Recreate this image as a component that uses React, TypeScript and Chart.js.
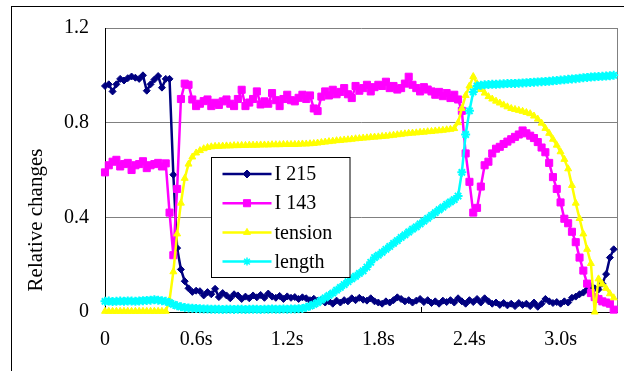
import React, { useEffect, useRef } from 'react';
import { Chart, registerables } from 'chart.js';
import { drawPoint } from 'chart.js/helpers';

Chart.register(...registerables);

// ---- data ----
const SAMPLE_STEP = 0.025; // seconds between samples
const X_MAX = 3.375;
const X_TICK_VALUES = [0, 0.6, 1.2, 1.8, 2.4, 3.0];
const X_TICK_LABELS = ['0', '0.6s', '1.2s', '1.8s', '2.4s', '3.0s'];
const X_INNER_MARK = 2.08;
const Y_TICK_VALUES = [0, 0.4, 0.8, 1.2];
const Y_TICK_LABELS = ['0', '0.4', '0.8', '1.2'];
const Y_TITLE = 'Relative changes';
const SERIES_NAMES = ['I 215', 'I 143', 'tension', 'length'];

const I215 = [
  0.955, 0.962, 0.932, 0.962, 0.985, 0.978, 0.988, 0.995, 0.99, 0.985,
  1.0, 0.935, 0.962, 0.982, 0.997, 0.948, 0.985, 0.985, 0.58, 0.27,
  0.18, 0.13, 0.1, 0.085, 0.09, 0.088, 0.07, 0.084, 0.075, 0.098,
  0.063, 0.08, 0.07, 0.058, 0.075, 0.07, 0.055, 0.065, 0.058, 0.07,
  0.062, 0.072, 0.06, 0.078, 0.065, 0.06, 0.068, 0.055, 0.066, 0.06,
  0.063, 0.055, 0.062, 0.058, 0.05, 0.056, 0.048, 0.052, 0.04, 0.045,
  0.035, 0.048, 0.04, 0.05, 0.045, 0.058, 0.05, 0.06, 0.052, 0.048,
  0.058, 0.045, 0.04, 0.035, 0.045, 0.04, 0.05, 0.062, 0.055, 0.045,
  0.05, 0.04, 0.048, 0.055, 0.042, 0.05, 0.038, 0.045, 0.035, 0.048,
  0.042, 0.05, 0.04, 0.058, 0.045, 0.035, 0.05, 0.042, 0.055, 0.04,
  0.058, 0.045, 0.035, 0.04, 0.03, 0.038, 0.028, 0.035, 0.025, 0.038,
  0.03, 0.035, 0.025, 0.04, 0.022, 0.035, 0.055, 0.045, 0.038, 0.042,
  0.035, 0.045, 0.04, 0.06, 0.065, 0.075, 0.082, 0.095, 0.11, 0.1,
  0.095, 0.12, 0.16, 0.23, 0.265,
];

const I143 = [
  0.59, 0.62, 0.635, 0.643, 0.615, 0.625, 0.63, 0.6, 0.62, 0.625,
  0.637, 0.608, 0.62, 0.625, 0.63, 0.615, 0.628, 0.42, 0.24, 0.52,
  0.9, 0.965, 0.96, 0.898, 0.87, 0.88, 0.891, 0.898, 0.87, 0.884,
  0.875, 0.89, 0.898, 0.88, 0.87, 0.9, 0.939, 0.87, 0.885, 0.9,
  0.932, 0.877, 0.89, 0.88, 0.925, 0.895, 0.87, 0.9, 0.918, 0.895,
  0.89, 0.905, 0.918, 0.9, 0.915, 0.86, 0.849, 0.91, 0.932, 0.915,
  0.939, 0.92, 0.93, 0.946, 0.92, 0.904, 0.955, 0.935, 0.946, 0.96,
  0.932, 0.95, 0.96, 0.955, 0.973, 0.946, 0.955, 0.94, 0.946, 0.965,
  0.994, 0.96, 0.946, 0.932, 0.95, 0.94, 0.932, 0.918, 0.93, 0.912,
  0.925, 0.904, 0.918, 0.898, 0.85, 0.67, 0.55, 0.42, 0.44, 0.53,
  0.62, 0.635, 0.67, 0.69, 0.698, 0.71, 0.72, 0.73, 0.74, 0.75,
  0.767, 0.755, 0.745, 0.735, 0.718, 0.695, 0.675, 0.63, 0.57, 0.52,
  0.463, 0.394, 0.375, 0.339, 0.295, 0.23, 0.175, 0.12, 0.08, 0.063,
  0.055, 0.045, 0.04, 0.035, 0.01,
];

const TENSION = [
  0.003, 0.003, 0.003, 0.003, 0.003, 0.003, 0.003, 0.003, 0.003, 0.003,
  0.003, 0.003, 0.003, 0.003, 0.003, 0.003, 0.003, 0.05, 0.17, 0.33,
  0.46, 0.565, 0.625, 0.655, 0.672, 0.682, 0.69, 0.695, 0.698, 0.7,
  0.7, 0.701, 0.702, 0.702, 0.703, 0.703, 0.704, 0.704, 0.705, 0.705,
  0.705, 0.706, 0.706, 0.706, 0.707, 0.707, 0.707, 0.708, 0.708, 0.708,
  0.708, 0.709, 0.71, 0.71, 0.711, 0.712, 0.714, 0.716, 0.718, 0.72,
  0.722, 0.724, 0.725, 0.727, 0.728, 0.73, 0.732, 0.733, 0.735, 0.736,
  0.738, 0.739, 0.74, 0.742, 0.743, 0.745, 0.747, 0.749, 0.751, 0.753,
  0.755, 0.756, 0.757, 0.759, 0.76, 0.762, 0.763, 0.765, 0.766, 0.768,
  0.77, 0.772, 0.775, 0.8, 0.86, 0.915, 0.955, 0.995, 0.965, 0.94,
  0.925, 0.91, 0.9, 0.891, 0.883, 0.875, 0.867, 0.86, 0.856, 0.852,
  0.848, 0.843, 0.838, 0.828, 0.815, 0.798, 0.776, 0.755, 0.73, 0.705,
  0.677, 0.645, 0.605, 0.535, 0.46, 0.395, 0.33, 0.265, 0.205, 0.0,
  0.14, 0.118, 0.1, 0.077, 0.06,
];

const LENGTH = [
  0.045, 0.046, 0.044, 0.045, 0.046, 0.045, 0.047, 0.046, 0.045, 0.047,
  0.048, 0.049, 0.05, 0.052, 0.05, 0.048, 0.045, 0.04, 0.032, 0.026,
  0.022, 0.019, 0.017, 0.016, 0.015, 0.014, 0.013, 0.013, 0.012, 0.012,
  0.012, 0.011, 0.012, 0.012, 0.011, 0.012, 0.012, 0.011, 0.012, 0.012,
  0.012, 0.011, 0.012, 0.012, 0.013, 0.012, 0.012, 0.013, 0.012, 0.013,
  0.013, 0.014, 0.015, 0.02, 0.025, 0.032, 0.04, 0.05, 0.06, 0.07,
  0.08, 0.092, 0.104, 0.116, 0.128, 0.14, 0.151, 0.163, 0.174, 0.19,
  0.21, 0.23, 0.24, 0.252, 0.265, 0.277, 0.29, 0.302, 0.315, 0.326,
  0.338, 0.35, 0.36, 0.372, 0.384, 0.396, 0.408, 0.42, 0.432, 0.443,
  0.455, 0.465, 0.475, 0.49, 0.59, 0.75, 0.85, 0.93, 0.955, 0.958,
  0.96, 0.961, 0.962, 0.962, 0.963, 0.964, 0.965, 0.966, 0.966, 0.967,
  0.968, 0.969, 0.97, 0.971, 0.972, 0.973, 0.974, 0.975, 0.977, 0.978,
  0.98, 0.981, 0.983, 0.985, 0.986, 0.988, 0.99, 0.991, 0.993, 0.994,
  0.995, 0.996, 0.997, 0.998, 1.0,
];

// ---- styles ----
const FONT_FAMILY = '"Liberation Serif", "Times New Roman", serif';
const STYLES = [
  { color: '#000080', pointStyle: 'rectRot', radius: 3.5, borderW: 1, legendRadius: 4, order: 3 },
  { color: '#FF00FF', pointStyle: 'rect', radius: 5, borderW: 1, legendRadius: 5, order: 2 },
  { color: '#FFFF00', pointStyle: 'triangle', radius: 4, borderW: 1, legendRadius: 4, order: 1 },
  { color: '#00FFFF', pointStyle: 'star', radius: 4.5, borderW: 2, legendRadius: 4, order: 0 },
];
const SERIES_VALUES = [I215, I143, TENSION, LENGTH];

const decorPlugin = {
  id: 'decor',
  beforeDatasetsDraw(chart: any) {
    const { ctx, chartArea: a, scales } = chart;
    ctx.save();
    ctx.lineWidth = 1;
    ctx.strokeStyle = '#808080';
    const rx = Math.round(a.right) - 0.5;
    ctx.beginPath();
    ctx.moveTo(rx, a.top);
    ctx.lineTo(rx, a.bottom);
    ctx.stroke();
    // small inner tick on the time axis
    const tx = Math.round(scales.x.getPixelForValue(X_INNER_MARK)) + 0.5;
    ctx.strokeStyle = '#000';
    ctx.beginPath();
    ctx.moveTo(tx, a.bottom - 5);
    ctx.lineTo(tx, a.bottom);
    ctx.stroke();
    ctx.restore();
  },
  afterDraw(chart: any) {
    const { ctx } = chart;
    ctx.save();
    // y-axis title
    ctx.font = `21px ${FONT_FAMILY}`;
    ctx.fillStyle = '#000';
    ctx.translate(36, 220);
    ctx.rotate(-Math.PI / 2);
    ctx.textAlign = 'center';
    ctx.textBaseline = 'middle';
    ctx.fillText(Y_TITLE, 0, 0);
    ctx.restore();

    // legend
    const box = { x: 211.5, y: 157.5, w: 138.5, h: 120 };
    ctx.save();
    ctx.fillStyle = '#fff';
    ctx.fillRect(box.x, box.y, box.w, box.h);
    ctx.strokeStyle = '#000';
    ctx.lineWidth = 1;
    ctx.strokeRect(box.x, box.y, box.w, box.h);
    const rowH = 29.2;
    SERIES_NAMES.forEach((name, i) => {
      const st = STYLES[i];
      const cy = box.y + 16.5 + i * rowH;
      ctx.strokeStyle = st.color;
      ctx.fillStyle = st.color;
      ctx.lineWidth = 2.5;
      ctx.beginPath();
      ctx.moveTo(box.x + 11, cy);
      ctx.lineTo(box.x + 60, cy);
      ctx.stroke();
      ctx.lineWidth = st.pointStyle === 'star' ? 1.5 : 1;
      drawPoint(ctx, { pointStyle: st.pointStyle, radius: st.legendRadius, rotation: 0, borderWidth: ctx.lineWidth } as any, box.x + 35.5, cy);
      ctx.fillStyle = '#000';
      ctx.font = `20px ${FONT_FAMILY}`;
      ctx.textAlign = 'left';
      ctx.textBaseline = 'middle';
      ctx.fillText(name, box.x + 63, cy + 1);
    });
    ctx.restore();
  },
};

export default function App() {
  const ref = useRef<HTMLCanvasElement>(null);

  useEffect(() => {
    const canvas = ref.current;
    if (!canvas) return;
    Chart.defaults.font.family = FONT_FAMILY;
    Chart.defaults.color = '#000';

    const datasets = SERIES_VALUES.map((vals, i) => ({
      label: SERIES_NAMES[i],
      data: vals.map((v, k) => ({ x: k * SAMPLE_STEP, y: v })),
      borderColor: STYLES[i].color,
      backgroundColor: STYLES[i].color,
      pointBackgroundColor: STYLES[i].color,
      pointBorderColor: STYLES[i].color,
      pointStyle: STYLES[i].pointStyle,
      pointRadius: STYLES[i].radius,
      pointBorderWidth: STYLES[i].borderW,
      borderWidth: 2.5,
      tension: 0,
      order: STYLES[i].order,
      clip: false as any,
    }));

    const chart = new Chart(canvas, {
      type: 'line',
      data: { datasets },
      options: {
        animation: false,
        responsive: false,
        devicePixelRatio: 1,
        layout: { padding: { top: 22, right: 1, left: 0, bottom: 0 } },
        plugins: { legend: { display: false }, tooltip: { enabled: false } },
        scales: {
          x: {
            type: 'linear',
            min: 0,
            max: X_MAX,
            afterBuildTicks: (s: any) => {
              s.ticks = X_TICK_VALUES.map((v) => ({ value: v }));
            },
            afterFit: (s: any) => {
              s.height = 59;
            },
            grid: { display: false, drawTicks: false },
            border: { display: true, color: '#000', width: 1 },
            ticks: {
              autoSkip: false,
              maxRotation: 0,
              padding: 16,
              font: { size: 20, family: FONT_FAMILY },
              color: '#000',
              callback: (v: any) => {
                const idx = X_TICK_VALUES.findIndex((t) => Math.abs(t - v) < 1e-6);
                return idx >= 0 ? X_TICK_LABELS[idx] : '';
              },
            },
          },
          y: {
            min: 0,
            max: 1.2,
            afterBuildTicks: (s: any) => {
              s.ticks = Y_TICK_VALUES.map((v) => ({ value: v }));
            },
            afterFit: (s: any) => {
              s.width = 105;
            },
            grid: {
              drawTicks: false,
              color: (c: any) => (c.tick && c.tick.value === 0 ? '#000' : '#808080'),
              lineWidth: 1,
            },
            border: { display: true, color: '#000', width: 1 },
            ticks: {
              padding: 16,
              font: { size: 20, family: FONT_FAMILY },
              color: '#000',
              callback: (v: any) => {
                const idx = Y_TICK_VALUES.findIndex((t) => Math.abs(t - v) < 1e-6);
                return idx >= 0 ? Y_TICK_LABELS[idx] : '';
              },
            },
          },
        },
      },
      plugins: [decorPlugin],
    });
    return () => chart.destroy();
  }, []);

  return (
    <div
      style={{
        position: 'fixed',
        left: 0,
        top: 0,
        width: 624,
        height: 371,
        overflow: 'hidden',
        background: '#fff',
      }}
    >
      <div
        style={{
          position: 'absolute',
          left: 11,
          top: 6,
          width: 800,
          height: 600,
          border: '1px solid #000',
          boxSizing: 'border-box',
        }}
      />
      <canvas
        ref={ref}
        width={624}
        height={371}
        style={{ position: 'absolute', left: 0, top: 0, width: 624, height: 371 }}
      />
    </div>
  );
}
